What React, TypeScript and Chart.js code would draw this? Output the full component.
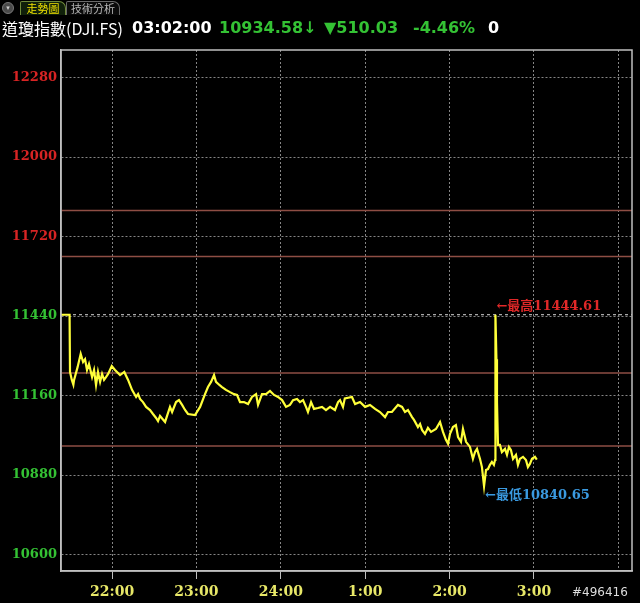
import React, { useEffect, useRef } from 'react';
import { Chart, registerables } from 'chart.js';

Chart.register(...registerables);

// minutes counted from 21:00
const timeMinutes = [
  23.7, 29.8, 30.1, 31.4, 32.5, 33.0, 35.5, 37.7, 39.4, 40.8,
  42.2, 43.6, 45.8, 47.2, 48.6, 50.0, 51.5, 52.9, 54.3, 55.7,
  57.2, 59.8, 62.1, 65.7, 68.7, 71.4, 74.2, 77.1, 78.5, 79.9,
  82.0, 84.2, 87.0, 89.1, 91.3, 92.7, 94.1, 97.7, 101.2, 102.7,
  105.5, 107.6, 109.8, 111.9, 114.0, 119.0, 122.6, 126.1, 128.2, 130.4,
  132.5, 133.9, 136.1, 138.2, 141.0, 143.9, 146.7, 148.9, 151.0, 153.8,
  156.7, 159.5, 162.4, 163.8, 166.6, 169.5, 172.3, 175.2, 178.0, 180.9,
  183.7, 186.5, 188.7, 191.5, 193.6, 195.8, 197.9, 199.3, 201.5, 203.6,
  206.4, 209.3, 212.1, 215.0, 218.5, 220.7, 222.1, 224.2, 225.5, 230.6,
  232.8, 236.3, 239.9, 243.4, 247.0, 250.5, 254.1, 256.2, 259.0, 263.3,
  266.2, 268.3, 270.4, 273.3, 274.7, 277.5, 279.0, 280.4, 282.5, 284.6,
  286.8, 290.3, 293.2, 295.3, 297.4, 298.9, 300.3, 302.4, 304.5, 306.0,
  308.1, 309.5, 311.7, 314.5, 316.6, 318.1, 319.5, 321.6, 323.0, 324.5,
  325.9, 327.3, 328.7, 330.1, 331.5, 332.3, 332.6, 333.3, 333.7, 334.4,
  335.8, 337.2, 339.4, 340.8, 342.2, 343.6, 345.1, 347.2, 348.6, 350.0,
  352.2, 354.3, 355.7, 357.1, 358.6, 360.7, 362.0,
];

const priceValues = [
  11444.61, 11444.61, 11243, 11215, 11198, 11215, 11260, 11307, 11278, 11288,
  11250, 11271, 11225, 11250, 11197, 11243, 11208, 11236, 11215, 11225,
  11236, 11264, 11250, 11232, 11243, 11215, 11180, 11155, 11165, 11148,
  11137, 11120, 11109, 11095, 11081, 11070, 11088, 11067, 11120, 11102,
  11137, 11144, 11127, 11109, 11095, 11091, 11120, 11165, 11190, 11208,
  11232, 11208, 11198, 11190, 11180, 11172, 11165, 11162, 11137, 11137,
  11130, 11155, 11165, 11127, 11165, 11165, 11176, 11162, 11155, 11144,
  11120, 11127, 11144, 11148, 11137, 11144, 11120, 11102, 11137, 11113,
  11116, 11120, 11109, 11120, 11109, 11137, 11144, 11120, 11150, 11155,
  11130, 11137, 11120, 11127, 11113, 11102, 11084, 11102, 11102, 11127,
  11120, 11102, 11109, 11084, 11074, 11049, 11060, 11039, 11025, 11046,
  11032, 11042, 11067, 11032, 11004, 10990, 11025, 11049, 11056, 11014,
  10997, 11042, 10997, 10979, 10937, 10961, 10972, 10937, 10908, 10840.65,
  10898, 10901, 10916, 10926, 10916, 10933, 11444.61, 11288, 11137, 10986,
  10986, 10961, 10972, 10951, 10979, 10968, 10937, 10951, 10916, 10937,
  10944, 10933, 10908, 10919, 10937, 10944, 10934.58,
];

const prevClose = 11444.61;
const refLevels = [11812, 11650, 11239, 10982];

const xMin = 23.7;
const xMax = 429.7;
const xTickMinutes = [60, 120, 180, 240, 300, 360, 420];
const xTickLabels = ['22:00', '23:00', '24:00', '1:00', '2:00', '3:00', ''];

const yMin = 10542;
const yMax = 12377;
const yTicks = [10600, 10880, 11160, 11440, 11720, 12000, 12280];

const highLabel = '最高';
const lowLabel = '最低';

const RED = '#d82424';
const GREEN = '#34c234';
const BLUE = '#3a9ae0';

const frameAndLabels = {
  id: 'frameAndLabels',
  afterDatasetsDraw(chart: any) {
    const { ctx, chartArea, scales } = chart;
    ctx.save();
    ctx.strokeStyle = '#c0c0c0';
    ctx.lineWidth = 1.5;
    ctx.strokeRect(chartArea.left, chartArea.top, chartArea.right - chartArea.left, chartArea.bottom - chartArea.top);

    const hiVal = Math.max(...priceValues);
    const loVal = Math.min(...priceValues);
    const hiIdx = priceValues.lastIndexOf(hiVal);
    const loIdx = priceValues.indexOf(loVal);
    const hx = scales.x.getPixelForValue(timeMinutes[hiIdx]);
    const hy = scales.y.getPixelForValue(hiVal);
    const lx = scales.x.getPixelForValue(timeMinutes[loIdx]);
    const ly = scales.y.getPixelForValue(loVal);
    ctx.font = 'bold 13px "DejaVu Serif", "Noto Sans CJK TC", serif';
    ctx.textBaseline = 'middle';
    ctx.textAlign = 'left';
    ctx.fillStyle = '#e02828';
    ctx.fillText('←' + highLabel + hiVal.toFixed(2), hx + 1, hy - 8);
    ctx.fillStyle = BLUE;
    ctx.fillText('←' + lowLabel + loVal.toFixed(2), lx + 1, ly + 9);
    ctx.restore();
  },
};

export default function App() {
  const ref = useRef<HTMLCanvasElement>(null);

  useEffect(() => {
    const canvas = ref.current;
    if (!canvas) return;
    const mainData = timeMinutes.map((t, i) => ({ x: t, y: priceValues[i] }));
    const levelSets = refLevels.map((lv) => ({
      data: [{ x: xMin, y: lv }, { x: xMax, y: lv }],
      borderColor: '#8e4e44',
      borderWidth: 1.5,
      pointRadius: 0,
      order: 3,
    }));
    const chart = new Chart(canvas, {
      type: 'line',
      data: {
        datasets: [
          {
            data: mainData,
            borderColor: '#ffff3a',
            borderWidth: 2.2,
            pointRadius: 0,
            tension: 0,
            order: 0,
          },
          {
            data: [{ x: xMin, y: prevClose }, { x: xMax, y: prevClose }],
            borderColor: '#d8d8d8',
            borderWidth: 1,
            borderDash: [3, 3],
            pointRadius: 0,
            order: 2,
          },
          ...levelSets,
        ] as any,
      },
      plugins: [frameAndLabels],
      options: {
        animation: false,
        responsive: false,
        maintainAspectRatio: false,
        layout: { padding: { top: 50, right: 8, left: 0, bottom: 0 } },
        plugins: { legend: { display: false }, tooltip: { enabled: false } },
        scales: {
          x: {
            type: 'linear',
            min: xMin,
            max: xMax,
            afterBuildTicks: (s: any) => {
              s.ticks = xTickMinutes.map((v) => ({ value: v }));
            },
            afterFit: (s: any) => {
              s.height = 32;
            },
            ticks: {
              autoSkip: false,
              maxRotation: 0,
              padding: 5,
              color: '#e8e868',
              font: { family: '"DejaVu Serif", serif', size: 14, weight: 'bold' },
              callback: (_v: any, i: number) => xTickLabels[i],
            },
            grid: {
              color: '#858585',
              lineWidth: 1,
              tickLength: 8,
              tickColor: (c: any) => (c.index === xTickMinutes.length - 1 ? 'rgba(0,0,0,0)' : '#c0c0c0'),
              tickBorderDash: [],
            } as any,
            border: { color: '#c0c0c0', width: 1.5, dash: [2, 2] },
          },
          y: {
            type: 'linear',
            min: yMin,
            max: yMax,
            afterBuildTicks: (s: any) => {
              s.ticks = yTicks.map((v) => ({ value: v }));
            },
            afterFit: (s: any) => {
              s.width = 61;
            },
            ticks: {
              padding: 4,
              color: (c: any) => (c.tick && c.tick.value > 11440 ? RED : GREEN),
              font: { family: '"DejaVu Serif", serif', size: 13, weight: 'bold' },
              callback: (v: any) => String(v),
            },
            grid: { color: '#858585', lineWidth: 1, drawTicks: false },
            border: { color: '#c0c0c0', width: 1.5, dash: [2, 2] },
          },
        },
      } as any,
    });
    return () => chart.destroy();
  }, []);

  const sans = '"DejaVu Sans", "Noto Sans CJK TC", sans-serif';
  const span = (left: number, text: string, color: string, bold = true, family = sans) => (
    <span
      style={{
        position: 'absolute',
        left,
        top: 18,
        color,
        fontFamily: family,
        fontWeight: bold ? 'bold' : 'normal',
        fontSize: 16,
        lineHeight: '20px',
        whiteSpace: 'nowrap',
      }}
    >
      {text}
    </span>
  );

  return (
    <div style={{ position: 'fixed', left: 0, top: 0, width: 640, height: 603, background: '#000', overflow: 'hidden' }}>
      <canvas ref={ref} width={640} height={603} style={{ position: 'absolute', left: 0, top: 0, width: 640, height: 603 }} />
      <div
        style={{
          position: 'absolute', left: 2, top: 2, width: 10, height: 10, borderRadius: '50%',
          background: '#4a4a4a', border: '1px solid #777', color: '#ccc', fontSize: 7, lineHeight: '10px',
          textAlign: 'center', fontFamily: sans,
        }}
      >
        ▾
      </div>
      <div
        style={{
          position: 'absolute', left: 20, top: 1, width: 44, height: 13, border: '1px solid #6f8a3a',
          borderBottom: 'none', borderRadius: '2px 7px 0 0', background: '#10200a', color: '#f0e000',
          fontSize: 11, lineHeight: '13px', textAlign: 'center', fontFamily: '"Noto Sans CJK TC", sans-serif',
        }}
      >
        走勢圖
      </div>
      <div
        style={{
          position: 'absolute', left: 66, top: 1, width: 52, height: 13, border: '1px solid #6a6a6a',
          borderBottom: 'none', borderRadius: '2px 7px 0 0', background: '#0a0a0a', color: '#b8b8b8',
          fontSize: 11, lineHeight: '13px', textAlign: 'center', fontFamily: '"Noto Sans CJK TC", sans-serif',
        }}
      >
        技術分析
      </div>
      {span(2, '道瓊指數(DJI.FS)', '#ffffff', false, '"Noto Sans CJK TC", sans-serif')}
      {span(132, '03:02:00', '#ffffff')}
      {span(219, '10934.58↓', GREEN)}
      {span(324, '▼510.03', GREEN)}
      {span(413, '-4.46%', GREEN)}
      {span(488, '0', '#ffffff')}
      <span
        style={{
          position: 'absolute', left: 572, top: 584, color: '#dddddd', fontFamily: sans, fontSize: 12,
          lineHeight: '16px', whiteSpace: 'nowrap',
        }}
      >
        #496416
      </span>
    </div>
  );
}
